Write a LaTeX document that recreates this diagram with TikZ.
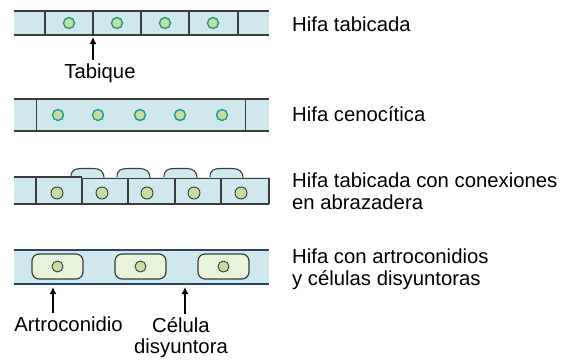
\documentclass[tikz,border=0pt]{standalone}
\usepackage{fontspec}
\setmainfont{Liberation Sans}
\usepackage{tikz}
\usetikzlibrary{arrows.meta,positioning}
\definecolor{celeste}{HTML}{CFE8EE}
\definecolor{verdenucleo}{HTML}{C6DCA0}
\definecolor{bordenucleo}{HTML}{1E9C88}
\definecolor{verdeclaro}{HTML}{E8F3DC}
\definecolor{gris}{HTML}{3C3C3C}
\definecolor{marino}{HTML}{2A4468}
\tikzstyle{muro} = [draw=gris, line width=1.1pt]
\tikzstyle{nucleo} = [circle, fill=verdenucleo, draw=bordenucleo, line width=1.4pt, minimum size=11pt, inner sep=0pt]
\tikzstyle{nucleogris} = [nucleo, draw=gris, line width=0.9pt]
\tikzstyle{conidio} = [draw=gris, fill=verdeclaro, rounded corners=7pt, line width=1.2pt, minimum width=51pt, minimum height=25pt, inner sep=0pt]
\tikzstyle{etiqueta} = [inner sep=0pt, font=\fontsize{20.3}{21.5}\selectfont]
\tikzstyle{flecha} = [-{Latex[length=7pt,width=7pt]}, line width=1.5pt, shorten <=3pt]

\begin{document}
\begin{tikzpicture}[x=1pt, y=-1pt]
\useasboundingbox (0,0) rectangle (579,360);

% hifa tabicada
\fill[celeste] (14,11) rectangle (269,35);
\draw[muro] (14,11) -- (269,11) (14,35) -- (269,35);
\foreach \x in {45,93,141,189,238}
	\draw[muro] (\x,11) -- (\x,35);
\foreach \x [count=\i] in {69,117,165,213}
	\node[nucleo] (a\i) at (\x,23) {};
\coordinate (tb) at (93,37);
\node[etiqueta, anchor=base] (tabique) at (100,78) {Tabique};
\draw[flecha] (tabique.north -| tb) -- (tb);
\node[etiqueta, anchor=base west] (hifa1) at (292,31) {Hifa tabicada};

% hifa cenocitica
\fill[celeste] (14,99) rectangle (269,131);
\draw[muro] (14,99) -- (269,99) (14,131) -- (269,131);
\draw[muro] (36.5,99) -- (36.5,131) (245.5,99) -- (245.5,131);
\foreach \x [count=\i] in {58,98,140,180,222}
	\node[nucleo] (b\i) at (\x,115) {};
\node[etiqueta, anchor=base west] (hifa2) at (292,121) {Hifa cenocítica};

% conexiones en abrazadera
\fill[celeste] (14,177) rectangle (269,204);
\foreach \s in {82,128,175,221}
	\draw[muro, fill=celeste] (\s-11,177) .. controls (\s-11,170) and (\s-7,168.5) .. (\s,168.5) -- (\s+11,168.5) .. controls (\s+18,168.5) and (\s+22,171) .. (\s+22,178.5);
\draw[muro] (14,204) -- (269,204);
\draw[muro] (14,177) -- (82,177) (36,177) -- (36,204);
\draw[muro] (82,204) -- (82,178.5) -- (128,178.5);
\draw[muro] (128,204) -- (128,178.5) -- (175,178.5);
\draw[muro] (175,204) -- (175,178.5) -- (221,178.5);
\draw[muro] (221,204) -- (221,178.5) -- (269,178.5) -- (269,204);
\foreach \x [count=\i] in {57,102,147,194,241}
	\node[nucleogris, minimum size=12pt] (c\i) at (\x,193) {};
\node[etiqueta, anchor=north west, align=left] (hifa3) at (292,173) {Hifa tabicada con conexiones\\en abrazadera};

% artroconidios
\fill[celeste] (14,250) rectangle (269,284);
\draw[draw=marino, line width=1.6pt] (14,250) -- (269,250) (14,284) -- (269,284);
\foreach \x [count=\i] in {57.5,140.5,223.5} {
	\node[conidio] (k\i) at (\x,266.5) {};
	\node[nucleogris] (d\i) at (k\i.center) {};
}
\coordinate (ac) at (53,287);
\coordinate (cd) at (185,287);
\node[etiqueta, anchor=base] (artro) at (68.5,331) {Artroconidio};
\node[etiqueta, anchor=north, align=center] (disy) at (181,317) {Célula\\disyuntora};
\draw[flecha] (artro.north -| ac) -- (ac);
\draw[flecha] (disy.north -| cd) -- (cd);
\node[etiqueta, anchor=north west, align=left] (hifa4) at (292,249) {Hifa con artroconidios\\y células disyuntoras};
\end{tikzpicture}
\end{document}
